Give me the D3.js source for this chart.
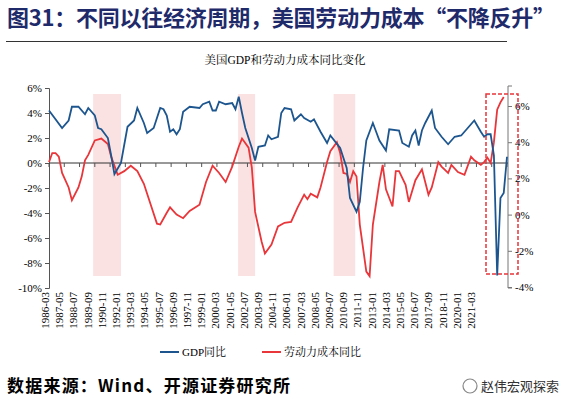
<!DOCTYPE html>
<html><head><meta charset="utf-8">
<script src="https://cdn.jsdelivr.net/npm/d3@7/dist/d3.min.js"></script>
<style>body{margin:0;background:#fff}</style></head>
<body><svg id="c" width="563" height="410"></svg>
<script>
// quarter index from 1986Q1 (1986-03)
const gdpQ = [0,4,6,7,9,11,12,14,15,16,18,19,20,22,24,26,27,29,30,32,34,35,36,37,38,39,40,41,43,46,47,49,50,51,52,54,56,57,58,59,60,62,63,64,66,67,68,70,71,72,74,75,77,78,80,81,83,85,86,89,91,92,94,95,96,97,99,100,101,103,104,107,108,110,111,112,113,114,115,117,118,120,122,124,126,128,130,132,133,134,135,136,137,138,139,140];
const gdpVal = [4.2,2.8,3.4,4.5,4.5,3.9,4.4,3.8,2.8,2.7,2.0,0.6,-0.9,0.0,2.9,3.4,4.4,3.2,2.4,2.8,4.4,4.3,3.8,2.5,2.7,2.3,2.7,4.1,4.5,4.4,4.7,4.9,4.2,4.2,4.9,4.7,4.8,4.3,5.3,4.0,2.8,1.2,0.2,1.3,1.4,2.2,1.9,2.1,4.0,4.4,4.3,3.4,3.9,3.6,3.3,3.5,2.5,1.6,2.2,1.2,-0.4,-2.8,-3.9,-3.1,-0.4,1.8,3.2,2.5,1.8,1.0,2.7,2.6,1.6,1.3,2.2,2.6,1.4,2.6,3.2,4.2,2.8,2.1,1.5,2.1,2.2,2.8,3.4,2.5,2.1,2.3,2.3,0.6,-9.0,-2.8,-2.4,0.5];
const laborQ = [0,1,2,3,4,6,7,9,10,11,12,14,16,18,19,21,23,25,27,29,31,33,34,36,37,39,41,43,46,48,50,52,54,56,58,59,61,62,63,65,66,68,70,72,74,76,78,79,80,82,83,85,86,88,89,90,91,92,93,94,95,97,98,99,101,102,103,105,106,107,109,110,112,114,116,117,119,120,122,123,125,127,129,130,132,133,134,135,136,137,138,139];
const laborVal = [2.9,3.4,3.4,3.2,2.3,1.5,0.8,1.5,2.1,3.0,3.3,4.1,4.2,3.9,3.2,2.2,2.4,2.7,2.4,1.7,0.6,-0.5,-0.55,0.1,0.4,0.0,-0.2,0.2,0.55,1.8,2.7,2.3,1.8,2.65,3.75,4.2,3.7,2.6,0.15,-1.5,-2.15,-1.65,-0.65,-0.45,-0.4,0.4,1.1,0.85,1.15,0.95,1.5,2.9,3.5,4.0,3.4,2.3,2.25,1.8,2.4,2.1,-0.55,-3.15,-3.4,-0.55,1.8,2.75,1.4,0.45,2.4,2.4,1.65,0.7,1.9,2.5,1.1,1.5,2.9,2.65,2.3,2.75,2.35,2.2,3.2,3.0,2.75,2.9,3.15,2.85,4.0,5.8,6.2,6.5];
const recessions = [[13.5,22],[57.8,63],[87,93.6]];
const xLabels = ["1986-03","1987-05","1988-07","1989-09","1990-11","1992-01","1993-03","1994-05","1995-07","1996-09","1997-11","1999-01","2000-03","2001-05","2002-07","2003-09","2004-11","2006-01","2007-03","2008-05","2009-07","2010-09","2011-11","2013-01","2014-03","2015-05","2016-07","2017-09","2018-11","2020-01","2021-03"];
const leftTicks = [6,4,2,0,-2,-4,-6,-8,-10];
const rightTicks = [6,4,2,0,-2,-4];

const svg = d3.select("#c");
const x = d3.scaleLinear().domain([0,140]).range([49,507]);
const yL = d3.scaleLinear().domain([-10,6]).range([288,88]);
const yR = d3.scaleLinear().domain([-4,6]).range([287,106]);
const xLab = d3.scalePoint().domain(xLabels).range([45,471]);
const serif = "'Liberation Serif','Noto Serif CJK SC','Noto Sans CJK SC',serif";

svg.append("text").attr("x",7).attr("y",26).attr("fill","#1f2a6b").attr("font-size",22).attr("font-weight","bold")
  .attr("font-family","'Noto Sans CJK SC',sans-serif").attr("textLength",548).text("图31：不同以往经济周期，美国劳动力成本“不降反升”");
svg.append("line").attr("x1",6).attr("x2",507).attr("y1",41.5).attr("y2",41.5).attr("stroke","#333").attr("stroke-width",1);
svg.append("text").attr("x",285).attr("y",64).attr("text-anchor","middle").attr("font-size",11.5).attr("font-family",serif).text("美国GDP和劳动力成本同比变化");

svg.selectAll("rect.rec").data(recessions).join("rect").attr("class","rec")
  .attr("x",d=>x(d[0])).attr("width",d=>x(d[1])-x(d[0])).attr("y",94).attr("height",182).attr("fill","#fbe2e2");

const gl = svg.append("g").attr("transform","translate(49,0)")
  .call(d3.axisLeft(yL).tickValues(leftTicks).tickFormat(d=>d+"%").tickSize(4));
gl.select(".domain").attr("stroke","#555");
gl.selectAll(".tick line").attr("stroke","#555");
gl.selectAll("text").attr("font-family",serif).attr("font-size",11).attr("fill","#000");
const gr = svg.append("g").attr("transform","translate(508,0)")
  .call(d3.axisRight(yR).tickValues(rightTicks).tickFormat(d=>d+"%").tickSize(4));
gr.select(".domain").attr("stroke","#777").attr("d","M4,86H0V288H4");
gr.selectAll(".tick line").attr("stroke","#777");
gr.selectAll("text").attr("font-family",serif).attr("font-size",11).attr("fill","#000");

svg.append("line").attr("x1",49).attr("x2",508).attr("y1",yL(0)).attr("y2",yL(0)).attr("stroke","#333");
svg.selectAll("line.xt").data(xLabels).join("line").attr("class","xt")
  .attr("x1",(d,i)=>x(i*140/30)).attr("x2",(d,i)=>x(i*140/30)).attr("y1",yL(0)).attr("y2",yL(0)+4).attr("stroke","#555");
svg.selectAll("text.xl").data(xLabels).join("text").attr("class","xl")
  .attr("transform",d=>`translate(${xLab(d)+4},292) rotate(-90)`).attr("text-anchor","end")
  .attr("font-family",serif).attr("font-size",11).text(d=>d);

const gdp = gdpQ.map((q,i)=>[q,gdpVal[i]]);
const lab = laborQ.map((q,i)=>[q,laborVal[i]]);
svg.append("path").datum(lab).attr("fill","none").attr("stroke","#e8363a").attr("stroke-width",1.8)
  .attr("d",d3.line().x(d=>x(d[0])).y(d=>yR(d[1])));
svg.append("path").datum(gdp).attr("fill","none").attr("stroke","#1d568f").attr("stroke-width",1.8)
  .attr("d",d3.line().x(d=>x(d[0])).y(d=>yL(d[1])));

svg.append("rect").attr("x",486).attr("y",94).attr("width",32).attr("height",180).attr("fill","none")
  .attr("stroke","#e8363a").attr("stroke-width",1.5).attr("stroke-dasharray","4,2");

const leg = [["GDP同比","#1d568f",160],["劳动力成本同比","#e8363a",262]];
leg.forEach(([t,c,lx])=>{
  svg.append("line").attr("x1",lx).attr("x2",lx+19).attr("y1",352).attr("y2",352).attr("stroke",c).attr("stroke-width",2);
  svg.append("text").attr("x",lx+22).attr("y",356).attr("font-size",11).attr("font-family",serif).text(t);
});

svg.append("text").attr("x",7).attr("y",392).attr("font-size",17).attr("font-weight","bold")
  .attr("font-family","'Noto Sans CJK SC',sans-serif").attr("textLength",283).text("数据来源：Wind、开源证券研究所");
svg.append("circle").attr("cx",470).attr("cy",386).attr("r",7).attr("fill","none").attr("stroke","#888").attr("stroke-width",1.2);
svg.append("text").attr("x",481).attr("y",391).attr("font-size",13).attr("fill","#333")
  .attr("font-family","'Noto Sans CJK SC',sans-serif").text("赵伟宏观探索");
</script></body></html>
